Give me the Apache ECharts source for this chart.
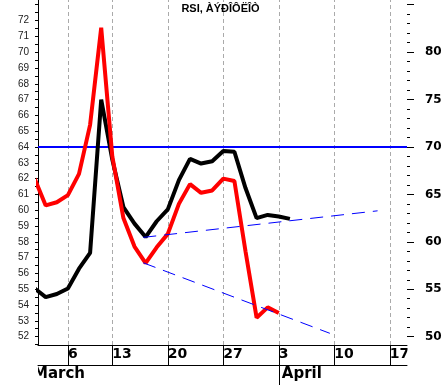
<!DOCTYPE html>
<html><head><meta charset="utf-8">
<script src="https://cdn.jsdelivr.net/npm/echarts@6/dist/echarts.min.js"></script>
<style>html,body{margin:0;padding:0;background:#fff}#c{width:445px;height:385px}</style>
</head><body><div id="c"></div>
<script>
const titleText = 'RSI, ÀÝÐÎÔËÎÒ';
// trading-day index (0 = 6 March)
const tradingDay = [-3,-2,-1,0,1,2,3,4,5,6,7,8,9,10,11,12,13,14,15,16,17,18,19,20];
const rsiBlack = [55.05,54.5,54.7,55.05,56.3,57.3,67.0,63.2,60.2,59.15,58.3,59.3,60.05,61.9,63.25,62.95,63.1,63.75,63.7,61.4,59.5,59.7,59.6,59.45];
const rsiRed   = [62.0,60.3,60.5,60.95,62.3,65.4,71.55,63.4,59.5,57.7,56.65,57.65,58.5,60.4,61.65,61.1,61.25,62.0,61.85,57.4,53.2,53.85,53.5];
const weekTicks  = [0,4,9,14,19,24,29];
const weekLabels = ['6','13','20','27','3','10','17'];
const monthNames = ['March','April'];
const monthStarts = [-2.694,19];
const leftLabels = [52,53,54,55,56,57,58,59,60,61,62,63,64,65,66,67,68,69,70,71,72];
const leftTicks = [51.5,52,52.5,53,53.5,54,54.5,55,55.5,56,56.5,57,57.5,58,58.5,59,59.5,60,60.5,61,61.5,62,62.5,63,63.5,64,64.5,65,65.5,66,66.5,67,67.5,68,68.5,69,69.5,70,70.5,71,71.5,72,72.5,73];
const rightMinorTicks = [50,51,52,53,54,55,56,57,58,59,60,61,62,63,64,65,66,67,68,69,70,71,72,73,74,75,76,77,78,79,80,81,82,83,84,85];
const rightMajorTicks = [50,55,60,65,70,75,80,85];
const rightLabels = [50,55,60,65,70,75,80];
const overbought = 70; // right-axis units
const upperTrendX = [6.79, 27.9];
const upperTrendY = [58.28, 59.96];
const lowerTrendX = [6.79, 23.6];
const lowerTrendY = [56.67, 52.21];

const X_MIN = -2.694, X_MAX = 30.55;
const L_MIN = 51.47, L_MAX = 73.3;
const R_MIN = 49.12, R_MAX = 85.5;

const chart = echarts.init(document.getElementById('c'), null, {renderer:'canvas'});
const pair = (xs, ys) => xs.map((x,i)=>[x, ys[i]]);
const option = {
  animation: false,
  backgroundColor: '#fff',
  grid: {left: 38, right: 38, top: 0, bottom: 40, containLabel: false},
  xAxis: [
    {type:'value', min:X_MIN, max:X_MAX, position:'bottom',
     axisLine:{show:true, onZero:false, lineStyle:{color:'#000', width:1}},
     axisTick:{show:true, customValues: weekTicks, length:20, inside:false, lineStyle:{color:'#000', width:1}},
     axisLabel:{show:true, customValues: weekTicks, formatter: v => weekLabels[weekTicks.indexOf(v)],
       align:'left', margin:2, color:'#000', fontFamily:'DejaVu Sans', fontWeight:'bold', fontSize:14},
     splitLine:{show:false}},
    {type:'value', min:X_MIN, max:X_MAX, position:'bottom', offset:20,
     axisLine:{show:true, onZero:false, lineStyle:{color:'#000', width:1}},
     axisTick:{show:true, customValues: [monthStarts[1]], length:20, inside:false, lineStyle:{color:'#000', width:1}},
     axisLabel:{show:false}, splitLine:{show:false}}
  ],
  yAxis: [
    {type:'value', min:L_MIN, max:L_MAX, position:'left',
     axisLine:{show:true, onZero:false, lineStyle:{color:'#000', width:1}},
     axisTick:{show:true, customValues: leftTicks, length:3, inside:false, lineStyle:{color:'#000'}},
     axisLabel:{show:true, customValues: leftLabels, margin:9, color:'#222', fontFamily:'Liberation Sans', fontSize:10},
     splitLine:{show:false}},
    {type:'value', min:R_MIN, max:R_MAX, position:'right',
     axisLine:{show:false, onZero:false},
     axisTick:{show:true, customValues: rightMinorTicks, length:3, inside:false, lineStyle:{color:'#000'}},
     axisLabel:{show:false}, splitLine:{show:false}},
    {type:'value', min:R_MIN, max:R_MAX, position:'right',
     axisLine:{show:false, onZero:false},
     axisTick:{show:true, customValues: rightMajorTicks, length:7, inside:false, lineStyle:{color:'#000'}},
     axisLabel:{show:true, customValues: rightLabels, margin:18, color:'#000', fontFamily:'DejaVu Sans', fontWeight:'bold', fontSize:12},
     splitLine:{show:false}}
  ],
  series: [
    {name:'grid', type:'line', data:[], xAxisIndex:0, yAxisIndex:0, z:1,
     markLine:{silent:true, symbol:'none', z:1, label:{show:false}, animation:false,
       lineStyle:{color:'#aaaaaa', type:[4,3], width:1},
       data: weekTicks.map(v => ({xAxis: v}))}},
    {name:'level', type:'line', data:[], xAxisIndex:0, yAxisIndex:1, z:1,
     markLine:{silent:true, symbol:'none', z:2, label:{show:false}, animation:false,
       lineStyle:{color:'#0000ff', type:'solid', width:2},
       data: [{yAxis: overbought}]}},
    {name:'black', type:'line', data: pair(tradingDay, rsiBlack), xAxisIndex:0, yAxisIndex:0,
     symbol:'none', smooth:false, z:3, lineStyle:{color:'#000', width:4}},
    {name:'red', type:'line', data: pair(tradingDay.slice(0, rsiRed.length), rsiRed), xAxisIndex:0, yAxisIndex:0,
     symbol:'none', smooth:false, z:4, lineStyle:{color:'#ff0000', width:4}},
    {name:'upper', type:'line', data: pair(upperTrendX, upperTrendY), symbol:'none', z:5,
     lineStyle:{color:'#0000ff', width:1, type:[13,8]}},
    {name:'lower', type:'line', data: pair(lowerTrendX, lowerTrendY), symbol:'none', z:5,
     lineStyle:{color:'#0000ff', width:1, type:[13,8]}}
  ]
};
chart.setOption(option);

const aprilX = chart.convertToPixel({xAxisIndex:0}, monthStarts[1]);
chart.setOption({
  graphic: [
    {type:'text', x:220.5, y:3, z:10,
     style:{text:titleText, textAlign:'center', textVerticalAlign:'top', fill:'#000', font:'bold 11px "Liberation Sans", Arial'}},
    {type:'text', x:33, y:367, z:10,
     style:{text:monthNames[0], textAlign:'left', textVerticalAlign:'top', fill:'#000', font:'bold 15px "DejaVu Sans"'}},
    {type:'text', x:aprilX + 3, y:367, z:10,
     style:{text:monthNames[1], textAlign:'left', textVerticalAlign:'top', fill:'#000', font:'bold 15px "DejaVu Sans"'}},
    {type:'rect', shape:{x:0, y:366, width:38, height:19}, style:{fill:'#fff'}, z:20},
    {type:'rect', shape:{x:407.5, y:346, width:38, height:19}, style:{fill:'#fff'}, z:20}
  ]
});
</script></body></html>
